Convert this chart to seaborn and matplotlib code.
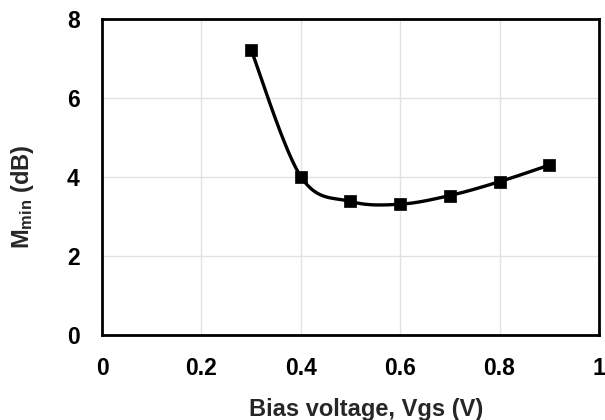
import numpy as np
import pandas as pd
import seaborn as sns
from matplotlib import pyplot as plt

# values
vgs = [0.3, 0.4, 0.5, 0.6, 0.7, 0.8, 0.9]
mmin = [7.22, 4.01, 3.38, 3.31, 3.53, 3.88, 4.30]
x_ticks = [0, 0.2, 0.4, 0.6, 0.8, 1]
x_labels = ["0", "0.2", "0.4", "0.6", "0.8", "1"]
y_ticks = [0, 2, 4, 6, 8]


def smooth_line(x, y, n=30):
    """Excel-like smoothed line: cubic Bezier segments with Catmull-Rom handles."""
    x = np.asarray(x, float)
    y = np.asarray(y, float)
    pts = np.column_stack([x, y])
    out = []
    for i in range(len(pts) - 1):
        p0 = pts[i - 1] if i > 0 else pts[i]
        p1 = pts[i]
        p2 = pts[i + 1]
        p3 = pts[i + 2] if i + 2 < len(pts) else pts[i + 1]
        c1 = p1 + (p2 - p0) / 6.0
        c2 = p2 - (p3 - p1) / 6.0
        t = np.linspace(0, 1, n, endpoint=(i == len(pts) - 2))[:, None]
        seg = ((1 - t) ** 3) * p1 + 3 * ((1 - t) ** 2) * t * c1 + 3 * (1 - t) * t ** 2 * c2 + t ** 3 * p2
        out.append(seg)
    seg = np.vstack(out)
    return seg[:, 0], seg[:, 1]


sns.set_style("white")
plt.rcParams["font.family"] = ["Liberation Sans", "DejaVu Sans"]
plt.rcParams["font.weight"] = "bold"
plt.rcParams["mathtext.fontset"] = "custom"
plt.rcParams["mathtext.rm"] = "Liberation Sans:bold"
plt.rcParams["mathtext.bf"] = "Liberation Sans:bold"
plt.rcParams["mathtext.it"] = "Liberation Sans:bold"

df = pd.DataFrame({"vgs": vgs, "mmin": mmin})
sx, sy = smooth_line(vgs, mmin)
curve = pd.DataFrame({"vgs": sx, "mmin": sy})

fig = plt.figure(figsize=(6.05, 4.2), dpi=100)
ax = fig.add_axes([0.1686, 0.2024, 0.8214, 0.7526])

sns.lineplot(data=curve, x="vgs", y="mmin", ax=ax, color="black", linewidth=2.4,
             sort=False, estimator=None)
sns.scatterplot(data=df, x="vgs", y="mmin", ax=ax, marker="s", color="black",
                s=80, edgecolor="black", linewidth=0.5, zorder=5)

ax.set_xlim(0, 1)
ax.set_ylim(0, 8)
ax.set_xticks(x_ticks)
ax.set_xticklabels(x_labels)
ax.set_yticks(y_ticks)
ax.grid(True, color="#e2e2e2", linewidth=1.0)
ax.set_axisbelow(True)
for sp in ax.spines.values():
    sp.set_color("black")
    sp.set_linewidth(2.0)
ax.tick_params(axis="y", direction="out", length=5, width=1.5, colors="black",
               labelsize=16.5, pad=11)
ax.tick_params(axis="x", direction="out", length=3, width=0.8, color="#cccccc",
               labelcolor="black", labelsize=16.5, pad=13)
for lab in ax.get_xticklabels() + ax.get_yticklabels():
    lab.set_fontweight("bold")

ax.set_xlabel("Bias voltage, Vgs (V)", fontsize=17, fontweight="bold", labelpad=13)
ax.set_ylabel(r"M$_{\mathrm{min}}$ (dB)", fontsize=17, fontweight="bold", labelpad=22)
ax.xaxis.label.set_x(0.531)
ax.yaxis.label.set_y(0.437)

fig.savefig("out.png", dpi=100)
plt.close(fig)
